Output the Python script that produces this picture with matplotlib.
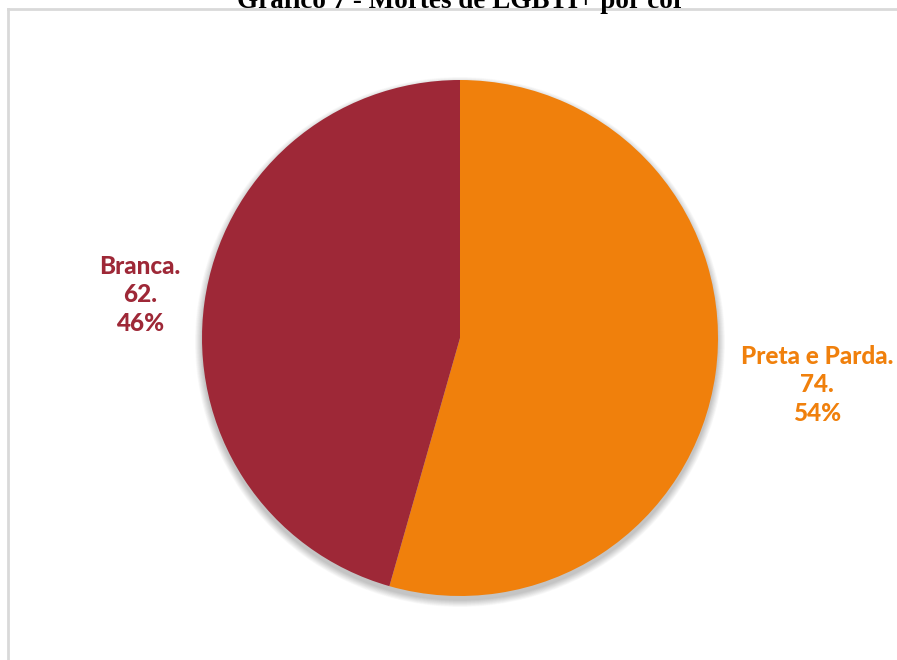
#!usr/bin/env python
import matplotlib.pyplot as plt
from matplotlib.patches import Circle

# dados do grafico
categorias = ["Preta e Parda", "Branca"]
mortes = [74, 62]
cores = ["#F0800C", "#9E2837"]
titulo = "Gráfico 7 - Mortes de LGBTI+ por cor"


def plot(out_file="out.png"):
    fig = plt.figure(figsize=(8.97, 6.60), dpi=100)
    ax = fig.add_axes([0, 0, 1, 1])

    cx, cy, r = 460, 322, 258

    # sombra suave
    for i in range(12):
        ax.add_patch(Circle((cx, cy - 4), r + 7 - i * 0.6, color="black",
                            alpha=0.018, lw=0, zorder=2))

    wedges, _ = ax.pie(mortes, colors=cores, startangle=90,
                       counterclock=False, center=(cx, cy), radius=r,
                       wedgeprops=dict(lw=0))
    for w in wedges:
        w.set_zorder(3)
    ax.set_xlim(0, 897)
    ax.set_ylim(0, 660)
    ax.set_aspect("auto")
    ax.axis("off")

    # moldura cinza clara
    ax.plot([8, 8], [0, 651], color="#D9D9D9", lw=2, zorder=1)
    ax.plot([8, 897], [651, 651], color="#D9D9D9", lw=2, zorder=1)

    # titulo cortado no topo
    ax.text(461, 652, titulo, ha="center", va="baseline",
            family="Liberation Serif", fontweight="bold", fontsize=19.5,
            color="black", zorder=5)

    total = sum(mortes)
    pos = [(817, 275), (140, 365)]
    for nome, v, c, (x, y) in zip(categorias, mortes, cores, pos):
        txt = "%s.\n%d.\n%d%%" % (nome, v, round(100.0 * v / total))
        ax.text(x, y, txt, ha="center", va="center", color=c,
                family=["Lato", "DejaVu Sans"], fontweight=900,
                fontsize=17.5, linespacing=1.3, zorder=4)

    plt.savefig(out_file, dpi=100)


def main():
    plot()


if __name__ == "__main__":
    main()
